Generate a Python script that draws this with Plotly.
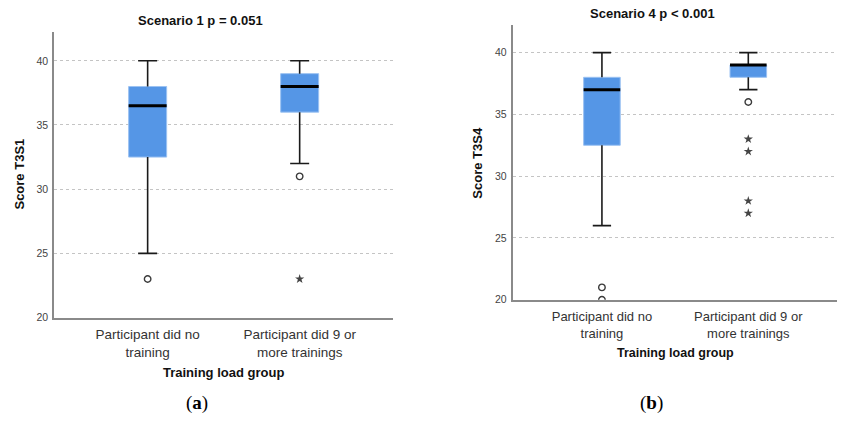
import plotly.graph_objects as go

# Group labels shared by both panels
groups = ["Participant did no<br>training", "Participant did 9 or<br>more trainings"]
group_pos = [0, 1]

# Scenario 1 (Score T3S1) five-number summaries per group
s1_q1 = [32.5, 36.0]
s1_median = [36.5, 38.0]
s1_q3 = [38.0, 39.0]
s1_whisker_low = [25.0, 32.0]
s1_whisker_high = [40.0, 40.0]
s1_outlier_group = [0, 1]
s1_outlier_value = [23.0, 31.0]
s1_extreme_group = [1]
s1_extreme_value = [23.0]

# Scenario 4 (Score T3S4) five-number summaries per group
s4_q1 = [32.5, 38.0]
s4_median = [37.0, 39.0]
s4_q3 = [38.0, 39.0]
s4_whisker_low = [26.0, 37.0]
s4_whisker_high = [40.0, 40.0]
s4_outlier_group = [0, 0, 1]
s4_outlier_value = [21.0, 20.0, 36.0]
s4_extreme_group = [1, 1, 1, 1]
s4_extreme_value = [33.0, 32.0, 28.0, 27.0]

y_ticks = [20, 25, 30, 35, 40]

BOX_W = 0.25
CAP_W = 0.125
BLUE = "#5596e6"
INK = "#1a1a1a"
FONT = "Liberation Sans, Arial, sans-serif"

fig = go.Figure()


def add_panel(xa, ya, q1, med, q3, lo, hi, og, ov, eg, ev):
    # interquartile boxes as floating bars
    fig.add_trace(go.Bar(
        x=group_pos, y=[b - a for a, b in zip(q1, q3)], base=q1, width=BOX_W,
        marker=dict(color=BLUE, line=dict(color="#9cc2f2", width=1)),
        xaxis=xa, yaxis=ya, showlegend=False, hoverinfo="skip"))
    # whiskers and caps
    wx, wy = [], []
    for p, a, b, l, h in zip(group_pos, q1, q3, lo, hi):
        wx += [p, p, None, p, p, None]
        wy += [l, a, None, b, h, None]
        wx += [p - CAP_W / 2, p + CAP_W / 2, None, p - CAP_W / 2, p + CAP_W / 2, None]
        wy += [l, l, None, h, h, None]
    fig.add_trace(go.Scatter(x=wx, y=wy, mode="lines", line=dict(color=INK, width=1.6),
                             xaxis=xa, yaxis=ya, showlegend=False, hoverinfo="skip"))
    # medians
    mx, my = [], []
    for p, m in zip(group_pos, med):
        mx += [p - BOX_W / 2, p + BOX_W / 2, None]
        my += [m, m, None]
    fig.add_trace(go.Scatter(x=mx, y=my, mode="lines", line=dict(color="#000000", width=3),
                             xaxis=xa, yaxis=ya, showlegend=False, hoverinfo="skip"))
    # outliers (circles) and extreme values (stars)
    fig.add_trace(go.Scatter(x=og, y=ov, mode="markers",
                             marker=dict(symbol="circle-open", size=6.5, color="#3a3a3a",
                                         line=dict(width=1.4, color="#3a3a3a")),
                             xaxis=xa, yaxis=ya, showlegend=False))
    fig.add_trace(go.Scatter(x=eg, y=ev, mode="markers",
                             marker=dict(symbol="star", size=7, color="#444444"),
                             xaxis=xa, yaxis=ya, showlegend=False))


add_panel("x", "y", s1_q1, s1_median, s1_q3, s1_whisker_low, s1_whisker_high,
          s1_outlier_group, s1_outlier_value, s1_extreme_group, s1_extreme_value)
add_panel("x2", "y2", s4_q1, s4_median, s4_q3, s4_whisker_low, s4_whisker_high,
          s4_outlier_group, s4_outlier_value, s4_extreme_group, s4_extreme_value)

W, H = 842, 431


def px_x(v):
    return v / W


def px_y(v):
    return 1 - v / H


xaxis_common = dict(
    tickvals=group_pos, ticktext=groups, showgrid=False, zeroline=False,
    showline=True, linecolor="#8a8a8a", linewidth=1.5, ticks="", ticklabelstandoff=4,
    tickfont=dict(family=FONT, size=13.5, color="#333333"), fixedrange=True)
yaxis_common = dict(
    tickvals=y_ticks, showgrid=True, gridcolor="#c4c4c4", griddash="3px,3px",
    gridwidth=1, zeroline=False, showline=True, linecolor="#8a8a8a", linewidth=1.5,
    ticks="", ticklabelstandoff=2,
    tickfont=dict(family=FONT, size=10.5, color="#444444"), fixedrange=True)

fig.update_layout(
    width=W, height=H, margin=dict(l=0, r=0, t=0, b=0),
    paper_bgcolor="white", plot_bgcolor="white", barmode="overlay",
    xaxis=dict(xaxis_common, domain=[px_x(54), px_x(393)], range=[-0.616, 1.614], anchor="y"),
    yaxis=dict(yaxis_common, domain=[px_y(322), px_y(32)], range=[20, 42.28], anchor="x"),
    xaxis2=dict(xaxis_common, domain=[px_x(512.5), px_x(837)], range=[-0.611, 1.606],
                anchor="y2", tickfont=dict(family=FONT, size=13, color="#333333")),
    yaxis2=dict(yaxis_common, domain=[px_y(304), px_y(25)], range=[20, 42.26], anchor="x2"),
)


def label(text, x, y, size, bold=True, angle=0, family=FONT, color="#111111"):
    fig.add_annotation(
        text=f"<b>{text}</b>" if bold else text, x=px_x(x), y=px_y(y),
        xref="paper", yref="paper", showarrow=False, textangle=angle,
        xanchor="center", yanchor="middle",
        font=dict(family=family, size=size, color=color))


label("Scenario 1 p = 0.051", 200, 21, 13)
label("Scenario 4 p &lt; 0.001", 652, 14, 13)
label("Score T3S1", 20, 177, 13, angle=-90)
label("Score T3S4", 478, 165, 13, angle=-90)
label("Training load group", 223, 378, 13)
label("Training load group", 675, 358, 12.5)
label("(<b>a</b>)", 197, 409, 19, bold=False, family="Liberation Serif, serif", color="#000000")
label("(<b>b</b>)", 651, 409, 19, bold=False, family="Liberation Serif, serif", color="#000000")

fig.write_html("out.html")
